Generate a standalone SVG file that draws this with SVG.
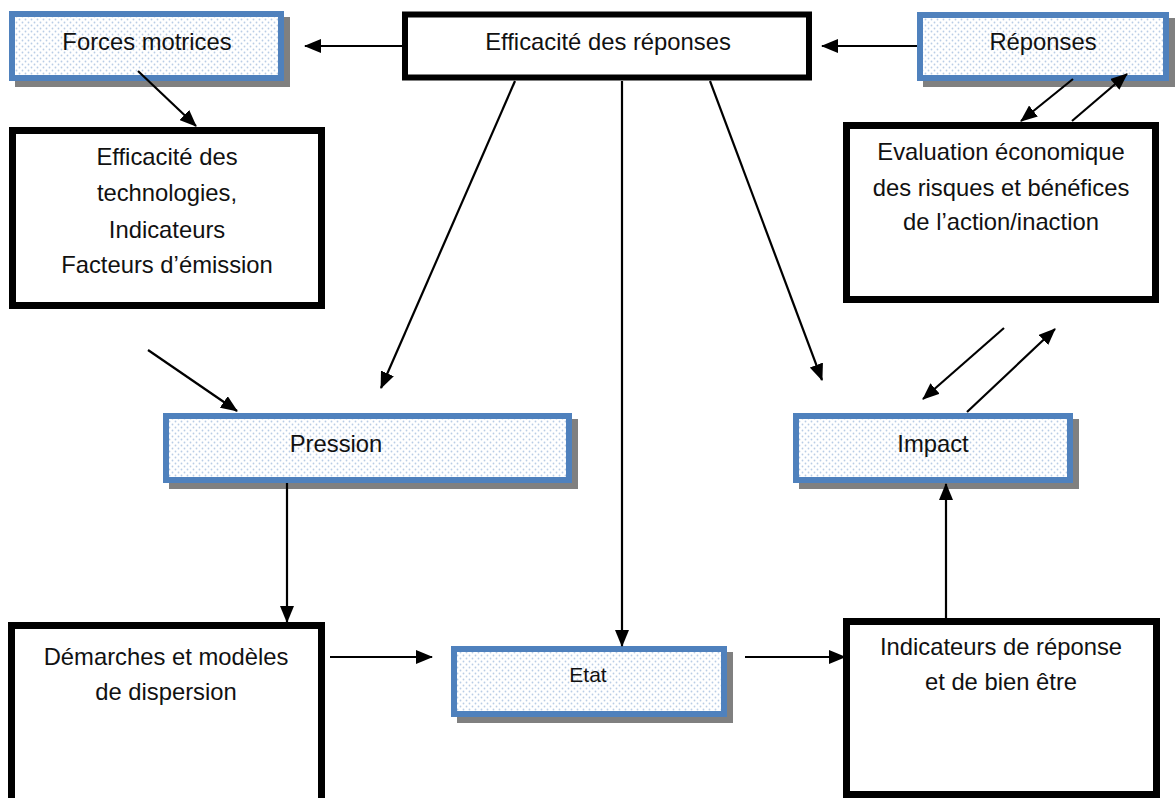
<svg xmlns="http://www.w3.org/2000/svg" width="1176" height="798" viewBox="0 0 1176 798">
<defs>
<pattern id="dots" width="6" height="6" patternUnits="userSpaceOnUse">
<rect width="6" height="6" fill="#ffffff"/>
<circle cx="1.5" cy="1.5" r="0.9" fill="#b9cde6"/>
<circle cx="4.5" cy="4.5" r="0.9" fill="#b9cde6"/>
</pattern>
<marker id="ah" markerWidth="17" markerHeight="14" refX="16" refY="7" orient="auto" markerUnits="userSpaceOnUse">
<path d="M0,0 L17,7 L0,14 Z" fill="#000"/>
</marker>
</defs>
<style>
.t{font-family:"Liberation Sans",Arial,sans-serif;font-size:23.8px;fill:#111;text-anchor:middle}
.s{fill:#808080}
.b{fill:url(#dots);stroke:#4f81bd;stroke-width:6}
.k{fill:#fff;stroke:#000;stroke-width:7}
.c{stroke:#000;stroke-width:2.2;fill:none;marker-end:url(#ah)}
</style>
<rect width="1176" height="798" fill="#fff"/>

<g id="forces">
<rect class="s" x="15" y="17" width="275" height="70"/>
<rect class="b" x="12" y="14" width="269" height="64"/>
<text class="t" x="147" y="50">Forces motrices</text>
</g>

<g id="efficacite-reponses">
<rect class="k" x="405" y="14.5" width="404" height="63" style="stroke-width:6"/>
<text class="t" x="608" y="50">Efficacité des réponses</text>
</g>

<g id="reponses">
<rect class="s" x="923" y="18" width="252" height="69"/>
<rect class="b" x="920" y="15" width="246" height="63"/>
<text class="t" x="1043" y="50">Réponses</text>
</g>

<g id="efficacite-technologies">
<rect class="k" x="12.5" y="130.5" width="309" height="175"/>
<text class="t" x="167" y="165">Efficacité des</text>
<text class="t" x="167" y="201">technologies,</text>
<text class="t" x="167" y="238">Indicateurs</text>
<text class="t" x="167" y="273">Facteurs d’émission</text>
</g>

<g id="evaluation">
<rect class="k" x="846.5" y="125.5" width="309" height="174"/>
<text class="t" x="1001" y="160">Evaluation économique</text>
<text class="t" x="1001" y="196">des risques et bénéfices</text>
<text class="t" x="1001" y="230">de l’action/inaction</text>
</g>

<g id="pression">
<rect class="s" x="169" y="419" width="409" height="70"/>
<rect class="b" x="166" y="416" width="403" height="64"/>
<text class="t" x="336" y="452">Pression</text>
</g>

<g id="impact">
<rect class="s" x="799" y="419" width="280" height="70"/>
<rect class="b" x="796" y="416" width="274" height="64"/>
<text class="t" x="933" y="452">Impact</text>
</g>

<g id="demarches">
<rect class="k" x="11.5" y="625.5" width="310" height="190"/>
<text class="t" x="166" y="665">Démarches et modèles</text>
<text class="t" x="166" y="700">de dispersion</text>
</g>

<g id="etat">
<rect class="s" x="457" y="652" width="276" height="71"/>
<rect class="b" x="454" y="649" width="270" height="65"/>
<text class="t" x="588" y="682" style="font-size:21px">Etat</text>
</g>

<g id="indicateurs">
<rect class="k" x="846.5" y="621.5" width="310" height="173"/>
<text class="t" x="1001" y="655">Indicateurs de réponse</text>
<text class="t" x="1001" y="690">et de bien être</text>
</g>

<g id="connectors">
<line class="c" x1="402" y1="46" x2="305" y2="46"/>
<line class="c" x1="917" y1="46" x2="822" y2="46"/>
<line class="c" x1="138" y1="71" x2="196" y2="126"/>
<line class="c" x1="1073" y1="79" x2="1021" y2="121"/>
<line class="c" x1="1072" y1="121" x2="1127" y2="74"/>
<line class="c" x1="515" y1="81" x2="381" y2="388"/>
<line class="c" x1="710" y1="81" x2="822" y2="380"/>
<line class="c" x1="622" y1="81" x2="622" y2="646"/>
<line class="c" x1="148" y1="350" x2="237" y2="411"/>
<line class="c" x1="1004" y1="328" x2="923" y2="399"/>
<line class="c" x1="967" y1="412" x2="1055" y2="329"/>
<line class="c" x1="287" y1="483" x2="287" y2="622"/>
<line class="c" x1="946" y1="618" x2="946" y2="484"/>
<line class="c" x1="330" y1="657" x2="432" y2="657"/>
<line class="c" x1="745" y1="657" x2="845" y2="657"/>
</g>
</svg>
